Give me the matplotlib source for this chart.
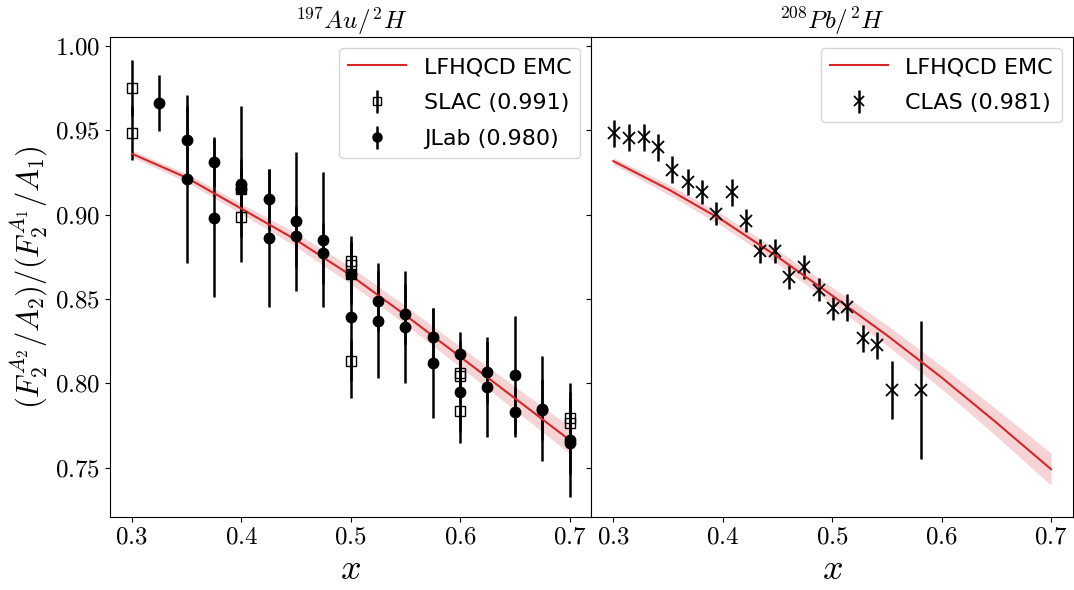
import numpy as np
import matplotlib
matplotlib.use("Agg")
import matplotlib.pyplot as plt
from matplotlib.lines import Line2D

plt.rcParams['font.family'] = 'serif'
plt.rcParams['font.serif'] = ['cmr10']
plt.rcParams['mathtext.fontset'] = 'cm'
plt.rcParams['axes.formatter.use_mathtext'] = True

# LFHQCD EMC curve + band, Au/D
au_x = [0.30, 0.35, 0.40, 0.45, 0.50, 0.55, 0.60, 0.65, 0.70]
au_th = [0.936, 0.9218, 0.9035, 0.885, 0.864, 0.8404, 0.8158, 0.7912, 0.7665]
au_th_err = [0.002, 0.0025, 0.003, 0.004, 0.005, 0.0055, 0.006, 0.007, 0.008]

# SLAC Au/D (x, ratio, err)
slac_x = [0.3, 0.3, 0.4, 0.4, 0.5, 0.5, 0.5, 0.5, 0.6, 0.6, 0.6, 0.7, 0.7]
slac_y = [0.975, 0.948, 0.915, 0.8985, 0.8725, 0.870, 0.865, 0.8135,
          0.806, 0.8044, 0.7835, 0.7797, 0.7764]
slac_err = [0.0165, 0.016, 0.012, 0.012, 0.012, 0.012, 0.012, 0.012,
            0.012, 0.012, 0.012, 0.015, 0.015]

# JLab Au/D
jlab_x = [0.325, 0.35, 0.35, 0.375, 0.375, 0.4, 0.4, 0.425, 0.425, 0.45, 0.45,
          0.475, 0.475, 0.5, 0.5, 0.525, 0.525, 0.55, 0.55, 0.575, 0.575,
          0.6, 0.6, 0.625, 0.625, 0.65, 0.65, 0.675, 0.675, 0.7, 0.7]
jlab_y = [0.966, 0.944, 0.921, 0.931, 0.898, 0.918, 0.915, 0.909, 0.886, 0.896, 0.887,
          0.885, 0.877, 0.865, 0.8395, 0.849, 0.837, 0.841, 0.8335, 0.8276, 0.8122,
          0.8172, 0.795, 0.8066, 0.798, 0.8048, 0.783, 0.785, 0.7845, 0.7665, 0.7646]
jlab_err = [0.0165, 0.020, 0.050, 0.015, 0.047, 0.046, 0.018, 0.018, 0.041, 0.041, 0.018,
            0.040, 0.018, 0.018, 0.048, 0.018, 0.034, 0.018, 0.033, 0.017, 0.0325,
            0.013, 0.030, 0.018, 0.0296, 0.035, 0.015, 0.031, 0.018, 0.034, 0.018]

# LFHQCD EMC curve + band, Pb/D
pb_x = [0.30, 0.35, 0.40, 0.45, 0.50, 0.55, 0.60, 0.65, 0.70]
pb_th = [0.9316, 0.9150, 0.8965, 0.8750, 0.8520, 0.8285, 0.8035, 0.7768, 0.7492]
pb_th_err = [0.002, 0.003, 0.0035, 0.004, 0.005, 0.006, 0.0068, 0.008, 0.0095]

# CLAS Pb/D
clas_x = [0.301, 0.3145, 0.328, 0.341, 0.354, 0.368, 0.381, 0.394, 0.408, 0.421,
          0.4343, 0.4479, 0.4609, 0.4743, 0.4876, 0.5009, 0.5136, 0.5279, 0.5409,
          0.5543, 0.5809]
clas_y = [0.9482, 0.9454, 0.9458, 0.9399, 0.9265, 0.9192, 0.9133, 0.9005, 0.9133, 0.8964,
          0.8783, 0.8783, 0.8631, 0.869, 0.8556, 0.8444, 0.845, 0.8266, 0.8227,
          0.7961, 0.7961]
clas_err = [0.008, 0.008, 0.008, 0.008, 0.008, 0.0078, 0.007, 0.007, 0.008, 0.007,
            0.007, 0.007, 0.007, 0.007, 0.007, 0.007, 0.008, 0.008, 0.008,
            0.017, 0.041]

red = '#d62728'
leg_kw = dict(loc='upper right', prop={'family': 'DejaVu Sans', 'size': 16},
              labelspacing=0.72, handlelength=2.6)

fig, (ax1, ax2) = plt.subplots(1, 2, sharey=True, figsize=(10.74, 5.9), dpi=100)
fig.subplots_adjust(left=0.1024, right=0.999, top=0.937, bottom=0.124, wspace=0)

# left panel
ax1.errorbar(slac_x, slac_y, yerr=slac_err, fmt='s', mfc='none', mec='k', ms=7,
             ecolor='k', elinewidth=1.8, capsize=0)
ax1.errorbar(jlab_x, jlab_y, yerr=jlab_err, fmt='o', color='k', ms=7.5,
             elinewidth=1.8, capsize=0)
lo = np.array(au_th) - np.array(au_th_err)
hi = np.array(au_th) + np.array(au_th_err)
ax1.fill_between(au_x, lo, hi, color=red, alpha=0.2, lw=0)
ax1.plot(au_x, au_th, color=red, lw=1.5)

h_line = Line2D([], [], color=red, lw=1.5)
h_slac = ax1.errorbar([], [], yerr=[], fmt='s', mfc='none', mec='k', ms=6,
                      ecolor='k', elinewidth=1.8)
h_jlab = ax1.errorbar([], [], yerr=[], fmt='o', color='k', ms=6.5, elinewidth=1.8)
ax1.legend([h_line, h_slac, h_jlab], ['LFHQCD EMC', 'SLAC (0.991)', 'JLab (0.980)'],
           **leg_kw)

# right panel
ax2.errorbar(clas_x, clas_y, yerr=clas_err, fmt='x', color='k', ms=8, mew=1.3,
             elinewidth=1.8, capsize=0)
lo = np.array(pb_th) - np.array(pb_th_err)
hi = np.array(pb_th) + np.array(pb_th_err)
ax2.fill_between(pb_x, lo, hi, color=red, alpha=0.2, lw=0)
ax2.plot(pb_x, pb_th, color=red, lw=1.5)
h_clas = ax2.errorbar([], [], yerr=[], fmt='x', color='k', ms=7, mew=1.3, elinewidth=1.8)
ax2.legend([h_line, h_clas], ['LFHQCD EMC', 'CLAS (0.981)'], **leg_kw)

for ax in (ax1, ax2):
    ax.set_xlim(0.28, 0.72)
    ax.set_xticks([0.3, 0.4, 0.5, 0.6, 0.7])
    ax.tick_params(labelsize=18)
    ax.set_xlabel('$x$', fontsize=26)

ax1.set_ylim(0.721, 1.005)
ax1.set_yticks([0.75, 0.80, 0.85, 0.90, 0.95, 1.00])
ax1.set_ylabel(r'$(F_2^{A_2}/A_2)/(F_2^{A_1}/A_1)$', fontsize=22)
ax1.set_title(r'$^{197}Au/^{2}H$', fontsize=18)
ax2.set_title(r'$^{208}Pb/^{2}H$', fontsize=18)

fig.savefig('out.png', dpi=100)
